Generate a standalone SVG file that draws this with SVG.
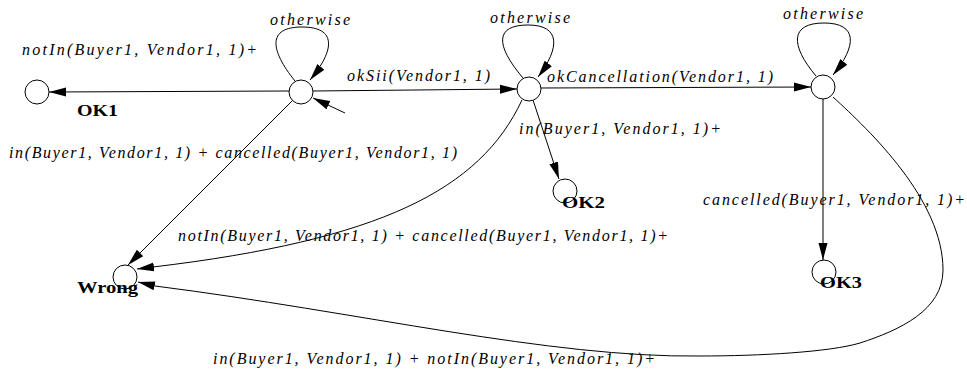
<svg xmlns="http://www.w3.org/2000/svg" width="967" height="371" viewBox="0 0 967 371">
<style>
.st{fill:#fff;stroke:#000;stroke-width:1}
.e{fill:none;stroke:#000;stroke-width:1;marker-end:url(#arr)}
.lb{font-family:"Liberation Serif",serif;font-style:italic;font-size:16px;fill:#000}
.nm{font-family:"Liberation Serif",serif;font-weight:bold;font-size:16px;fill:#000}
</style>
<defs>
<marker id="arr" markerWidth="17" markerHeight="10" refX="17" refY="5" orient="auto" markerUnits="userSpaceOnUse">
<path d="M0,0.5 L17,5 L0,9.5 z" fill="#000"/>
</marker>
</defs>
<g id="edges">
<path class="e" d="M345,113 L313,98"/>
<path class="e" d="M295,81 C270,50 267,27 302,27 C337,27 335,50 310,80"/>
<path class="e" d="M523,78 C495,45 495,25 528,25 C561,25 560,48 538,77"/>
<path class="e" d="M816,76 C790,45 790,23 824,23 C858,23 857,46 833,75"/>
<path class="e" d="M289,91 L49,92"/>
<path class="e" d="M313,91 L517,89"/>
<path class="e" d="M541,88 L811,87"/>
<path class="e" d="M533,100 L559,179"/>
<path class="e" d="M823,99 L823,260"/>
<path class="e" d="M293,100 L128,265"/>
<path class="e" d="M522,100 C480,190 380,240 153,267 L137,269"/>
<path class="e" d="M833,97 C870,131 943,200 943,270 C943,310 900,330 860,343 C830,352 760,356 700,356 C550,358 360,312 155,286 L138,282"/>
<text class="lb" x="270" y="25" textLength="80" lengthAdjust="spacing">otherwise</text>
<text class="lb" x="490" y="23" textLength="80" lengthAdjust="spacing">otherwise</text>
<text class="lb" x="783" y="19" textLength="80" lengthAdjust="spacing">otherwise</text>
<text class="lb" x="22" y="55" textLength="235" lengthAdjust="spacing">notIn(Buyer1, Vendor1, 1)+</text>
<text class="lb" x="347" y="81" textLength="143" lengthAdjust="spacing">okSii(Vendor1, 1)</text>
<text class="lb" x="547" y="82" textLength="226" lengthAdjust="spacing">okCancellation(Vendor1, 1)</text>
<text class="lb" x="519" y="134" textLength="202" lengthAdjust="spacing">in(Buyer1, Vendor1, 1)+</text>
<text class="lb" x="9" y="158" textLength="448" lengthAdjust="spacing">in(Buyer1, Vendor1, 1) + cancelled(Buyer1, Vendor1, 1)</text>
<text class="lb" x="703" y="205" textLength="262" lengthAdjust="spacing">cancelled(Buyer1, Vendor1, 1)+</text>
<text class="lb" x="178" y="241" textLength="490" lengthAdjust="spacing">notIn(Buyer1, Vendor1, 1) + cancelled(Buyer1, Vendor1, 1)+</text>
<text class="lb" x="213" y="364" textLength="442" lengthAdjust="spacing">in(Buyer1, Vendor1, 1) + notIn(Buyer1, Vendor1, 1)+</text>
</g>
<g id="node-S0"><circle class="st" cx="301" cy="92" r="12"/></g>
<g id="node-S1"><circle class="st" cx="529" cy="89" r="12"/></g>
<g id="node-S2"><circle class="st" cx="823" cy="87" r="12"/></g>
<g id="node-OK1"><circle class="st" cx="37" cy="92" r="12"/><text class="nm" x="77" y="116" textLength="41" lengthAdjust="spacingAndGlyphs">OK1</text></g>
<g id="node-OK2"><circle class="st" cx="565" cy="191" r="12"/><text class="nm" x="562" y="208" textLength="43" lengthAdjust="spacingAndGlyphs">OK2</text></g>
<g id="node-OK3"><circle class="st" cx="824" cy="272" r="12"/><text class="nm" x="820" y="288" textLength="42" lengthAdjust="spacingAndGlyphs">OK3</text></g>
<g id="node-Wrong"><circle class="st" cx="125" cy="277" r="12"/><text class="nm" x="77" y="293" textLength="61" lengthAdjust="spacingAndGlyphs">Wrong</text></g>
</svg>
